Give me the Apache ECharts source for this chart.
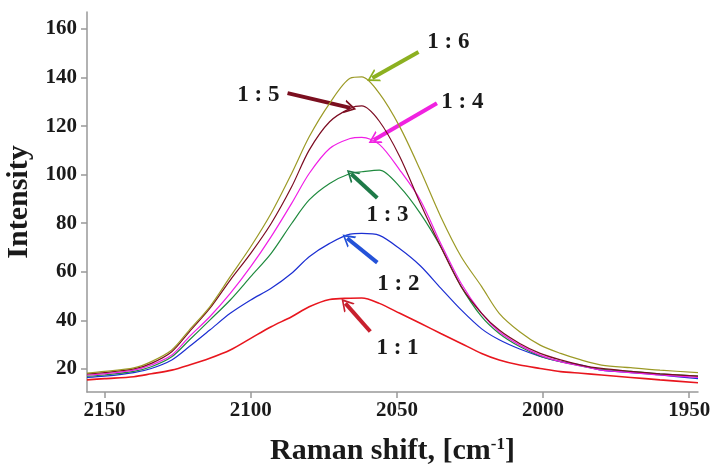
<!DOCTYPE html>
<html>
<head>
<meta charset="utf-8">
<script src="https://cdn.jsdelivr.net/npm/echarts@6/dist/echarts.min.js"></script>
<style>
  html, body { margin: 0; padding: 0; background: #fff; }
  #chart { width: 712px; height: 466px; }
</style>
</head>
<body>
<div id="chart"></div>
<script>
// Raman shift (cm-1) sample positions
const ramanShift = [2156, 2150, 2140, 2134, 2127, 2121, 2114, 2107, 2100, 2093, 2086, 2080, 2073, 2066, 2062,
  2056, 2049, 2042, 2035, 2028, 2021, 2015, 2008, 2001, 1994, 1987, 1980, 1970, 1960, 1947];

// intensities for each ratio
const ratio11 = [15.5, 16, 16.8, 18, 19.5, 21.6, 24.4, 27.8, 32.6, 37.4, 41.5, 45.6, 48.6, 49.1, 49.2,
  47, 42.9, 38.8, 34.6, 30.5, 26.4, 23.7, 21.6, 20.2, 18.9, 18.2, 17.5, 16.5, 15.5, 14.3];
const ratio12 = [16.5, 17, 18.5, 20.2, 23.7, 29.2, 36, 42.9, 48.4, 53.2, 59.4, 66.2, 71.7, 75.5, 75.8,
  75, 69.5, 62.5, 53.3, 44.3, 36.5, 32, 28.2, 25.2, 23, 21.6, 19.5, 18.5, 17.5, 16];
const ratio13 = [17, 17.5, 19, 20.9, 25, 31.9, 40.1, 48.4, 58, 67.6, 79.9, 89.6, 96.4, 100.5, 101.2,
  101.9, 95, 84.1, 70.3, 53.9, 41.5, 34.6, 29.2, 25.3, 23, 21.2, 19.8, 19, 18, 17];
const ratio14 = [17.5, 18, 19.5, 21.6, 25.7, 33.3, 41.5, 51.1, 62.1, 74.5, 88.2, 100.5, 110.8, 114.9, 115.4,
  112.5, 101.9, 89.6, 71.7, 55.2, 42.9, 35.3, 29.8, 25.7, 23, 21.2, 19.5, 18.5, 17.5, 16.5];
const ratio15 = [18, 18.5, 20, 22.3, 27.1, 35.3, 44.9, 56.6, 67.6, 79.9, 95, 110.1, 121.8, 127.3, 128.3,
  122, 107.4, 88.2, 70.3, 53.9, 42.9, 36, 30.5, 26.4, 23.7, 21.6, 20.2, 19, 18, 17];
const ratio16 = [18.3, 19, 20.4, 23, 27.8, 36, 45.6, 58, 70.3, 84.1, 100.5, 115.6, 129.4, 139.7, 140.3,
  133.5, 119.7, 101.9, 82.7, 66.2, 53.9, 42.9, 35.3, 29.8, 26.4, 23.7, 21.6, 20.5, 19.5, 18.5];

const ratioNames = ['1 : 1', '1 : 2', '1 : 3', '1 : 4', '1 : 5', '1 : 6'];
const xTicks = [2150, 2100, 2050, 2000, 1950];
const yTicks = [20, 40, 60, 80, 100, 120, 140, 160];

// annotation arrows: tail, head, and where the label sits (data coords)
const arrowTail = [[2059.1, 35.4], [2056.7, 63.8], [2056.7, 90.4], [2036.3, 129.4], [2087.4, 133.6], [2042.6, 150.5]];
const arrowHead = [[2067.6, 47], [2067, 73.8], [2065.6, 100.3], [2057.9, 114.3], [2065.9, 127.5], [2058.4, 139.8]];
const labelAt = [[2049.8, 28.6], [2049.5, 55], [2053.2, 83.4], [2027.6, 129.9], [2097.4, 132.8], [2032.4, 154.6]];

const lineColors = ['#e8161e', '#1c2fd2', '#1f8a3e', '#f01ee6', '#7c0c22', '#9c9a26'];
const arrowColors = ['#c8202e', '#2452d8', '#1e7a48', '#f022e0', '#7b0f1f', '#8cb020'];

const serif = '"Liberation Serif", "DejaVu Serif", serif';
const vee = 'path://M5,0 L10,10 L8.6,10 L5,2.8 L1.4,10 L0,10 Z';

const allValues = [ratio11, ratio12, ratio13, ratio14, ratio15, ratio16];

const chart = echarts.init(document.getElementById('chart'));

const series = allValues.map((vals, i) => ({
  name: ratioNames[i],
  type: 'line',
  data: ramanShift.map((x, j) => [x, vals[j]]),
  showSymbol: false,
  smooth: 0.3,
  lineStyle: { color: lineColors[i], width: i === 0 ? 1.6 : 1.2 },
  z: 2 + i,
  markLine: {
    silent: true,
    animation: false,
    symbol: ['none', vee],
    symbolSize: [14, 12],
    label: { show: false },
    lineStyle: { color: arrowColors[i], width: 4, type: 'solid' },
    data: [[{ coord: arrowTail[i] }, { coord: arrowHead[i] }]]
  }
}));

// ratio labels next to the arrows
series.push({
  name: 'labels',
  type: 'scatter',
  symbolSize: 1,
  silent: true,
  itemStyle: { color: '#fff', opacity: 1 },
  data: labelAt.map((p, i) => [p[0], p[1], ratioNames[i]]),
  label: {
    show: true,
    position: 'inside',
    formatter: p => p.value[2],
    color: '#1a1a1a',
    opacity: 1,
    textBorderWidth: 0,
    fontFamily: serif,
    fontWeight: 'bold',
    fontSize: 23
  },
  z: 20
});

chart.setOption({
  animation: false,
  backgroundColor: '#fff',
  grid: { left: 87, right: 14, top: 12, bottom: 74, containLabel: false, outerBoundsMode: 'none' },
  xAxis: {
    type: 'value',
    inverse: true,
    min: 1947,
    max: 2156,
    name: '{a|Raman shift, [cm}{s|-1}{a|]}',
    nameLocation: 'middle',
    nameGap: 44,
    nameTextStyle: {
      rich: {
        a: { fontFamily: serif, fontWeight: 'bold', fontSize: 30, color: '#1a1a1a' },
        s: { fontFamily: serif, fontWeight: 'bold', fontSize: 17, color: '#1a1a1a', padding: [0, 0, 14, 0] }
      }
    },
    axisLine: { show: true, lineStyle: { color: '#999', width: 1.5 } },
    axisTick: { show: true, length: 6, customValues: xTicks, lineStyle: { color: '#999', width: 1.5 } },
    axisLabel: {
      customValues: xTicks,
      formatter: v => String(v),
      margin: 8,
      color: '#1a1a1a',
      fontFamily: serif,
      fontWeight: 'bold',
      fontSize: 21
    },
    splitLine: { show: false }
  },
  yAxis: {
    type: 'value',
    min: 10.5,
    max: 167,
    name: 'Intensity',
    nameLocation: 'middle',
    nameGap: 48,
    nameTextStyle: { fontFamily: serif, fontWeight: 'bold', fontSize: 30, color: '#1a1a1a' },
    axisLine: { show: true, lineStyle: { color: '#999', width: 1.5 } },
    axisTick: { show: true, length: 6, customValues: yTicks, lineStyle: { color: '#999', width: 1.5 } },
    axisLabel: {
      customValues: yTicks,
      formatter: v => String(v),
      margin: 10,
      color: '#1a1a1a',
      fontFamily: serif,
      fontWeight: 'bold',
      fontSize: 21
    },
    splitLine: { show: false }
  },
  series: series
});
</script>
</body>
</html>
